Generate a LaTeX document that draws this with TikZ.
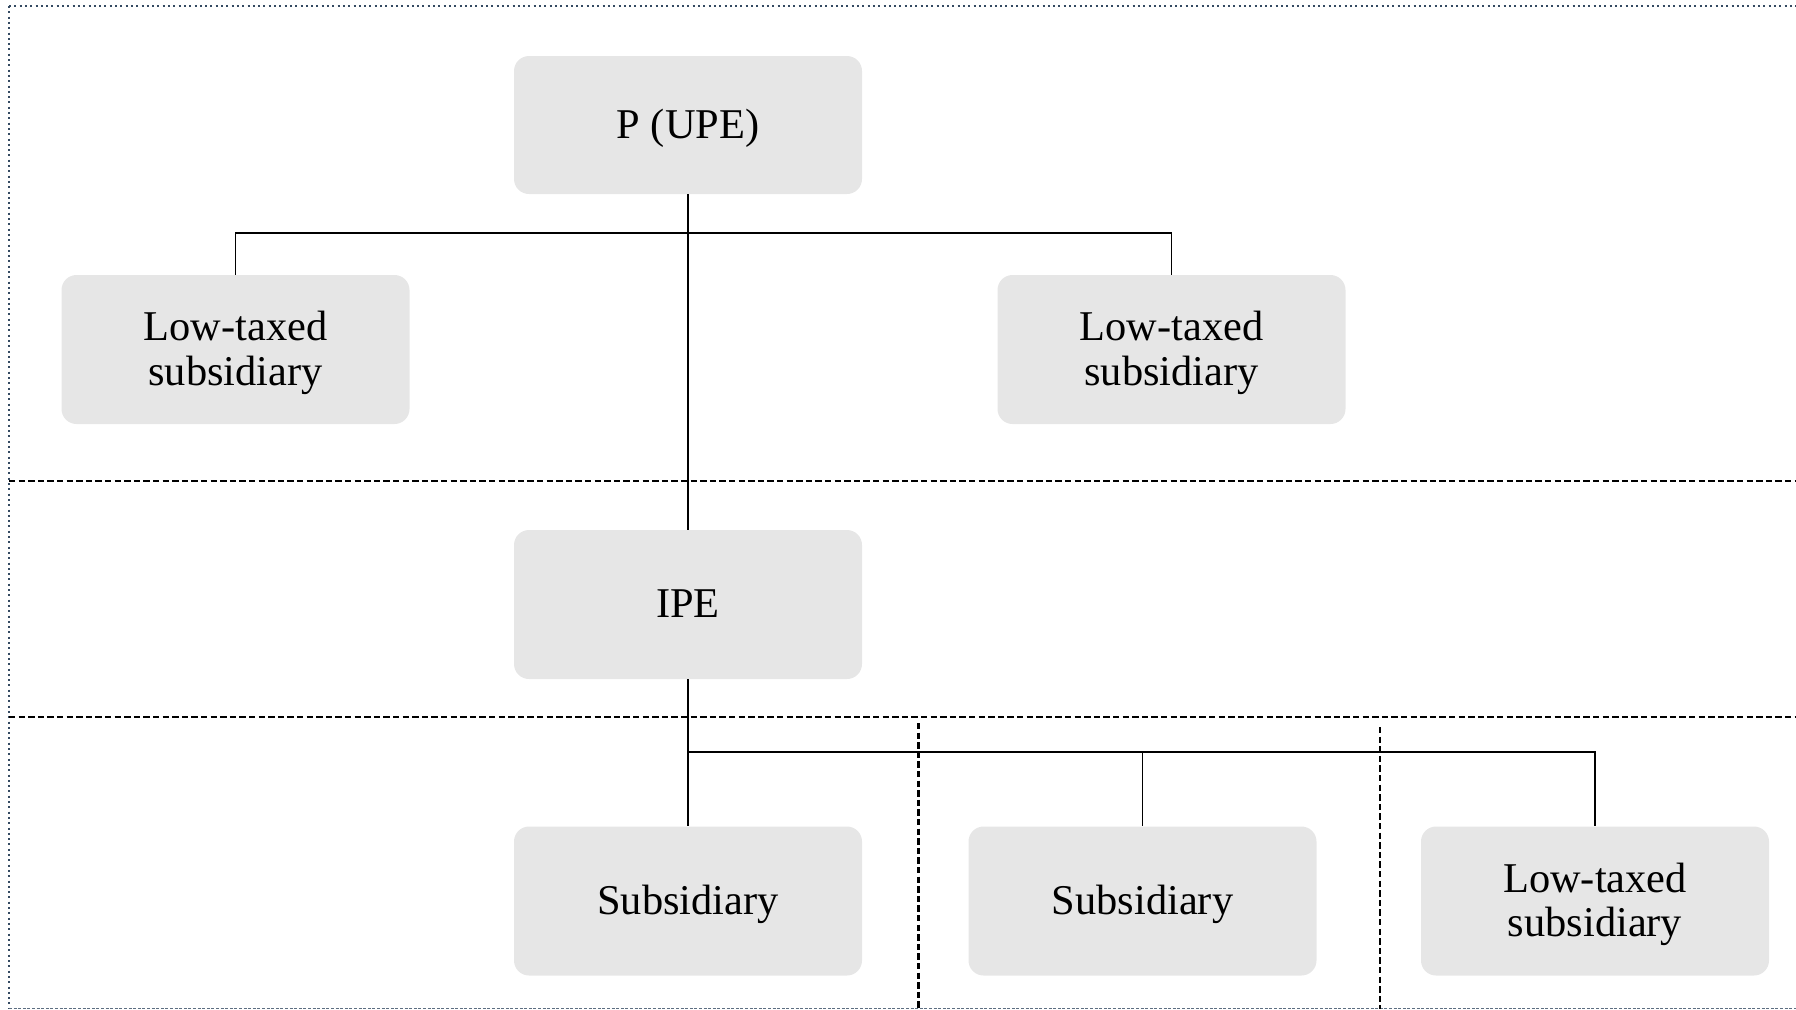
\documentclass[tikz,border=0pt]{standalone}
\usepackage{fontspec}
\setmainfont{Liberation Serif}
\newcommand{\topstrut}{\rule{0pt}{18pt}}
\begin{document}
\begin{tikzpicture}[x=0.5pt, y=-0.5pt,
  entity/.style={rectangle, rounded corners=7.5pt, fill=boxgray, draw=none,
    minimum width=174pt, minimum height=74.5pt, inner sep=0pt,
    align=center, font=\fontsize{21.2}{22.4}\selectfont},
  oneline/.style={entity, text height=17pt, text depth=4pt},
  twoline/.style={entity},
  link/.style={draw=black, line width=0.65pt},
  zone/.style={draw=black, line width=1.25pt, dash pattern=on 3.2pt off 1.6pt},
  frame/.style={draw=framecol, line width=1pt, dash pattern=on 1pt off 1.65pt},
  baseframe/.style={draw=framecol!80, line width=0.5pt, dash pattern=on 1.5pt off 0.8pt}]
\definecolor{boxgray}{RGB}{230,230,230}
\definecolor{framecol}{RGB}{52,74,98}
\useasboundingbox (0,0) rectangle (1796,1009);

% outer frame
\draw[frame] (9,6) -- (1796,6);
\draw[frame] (9,6) -- (9,1008);
\draw[baseframe] (9,1008) -- (1796,1008);

% jurisdiction separators
\draw[zone] (9,481) -- (1796,481);
\draw[zone] (9,717) -- (1796,717);
\draw[zone] (918.5,723) -- (918.5,1009);
\draw[zone] (1380,727) -- (1380,1009);

% entities
\node[oneline, minimum height=69pt] (p) at (688,125) {P (UPE)};
\node[twoline] (lt1) at (235.5,349.5)  {\topstrut Low-taxed\\subsidiary};
\node[twoline] (lt2) at (1171.5,349.5) {\topstrut Low-taxed\\subsidiary};
\node[oneline] (ipe) at (688,604.5)    {IPE};
\node[oneline] (sub1) at (688,901)     {Subsidiary};
\node[oneline] (sub2) at (1142.5,901)  {Subsidiary};
\node[twoline] (lt3) at (1595,901)     {\topstrut Low-taxed\\subsidiary};

% ownership links
\coordinate (bus1) at (688,233);
\coordinate (bus2) at (688,752);
\draw[link] (p.south) -- (ipe.north);
\draw[link] (lt1.north) |- (bus1) -| (lt2.north);
\draw[link] (ipe.south) -- (sub1.north);
\draw[link] (bus2) -| (sub2.north);
\draw[link] (bus2) -| (lt3.north);
\end{tikzpicture}
\end{document}
